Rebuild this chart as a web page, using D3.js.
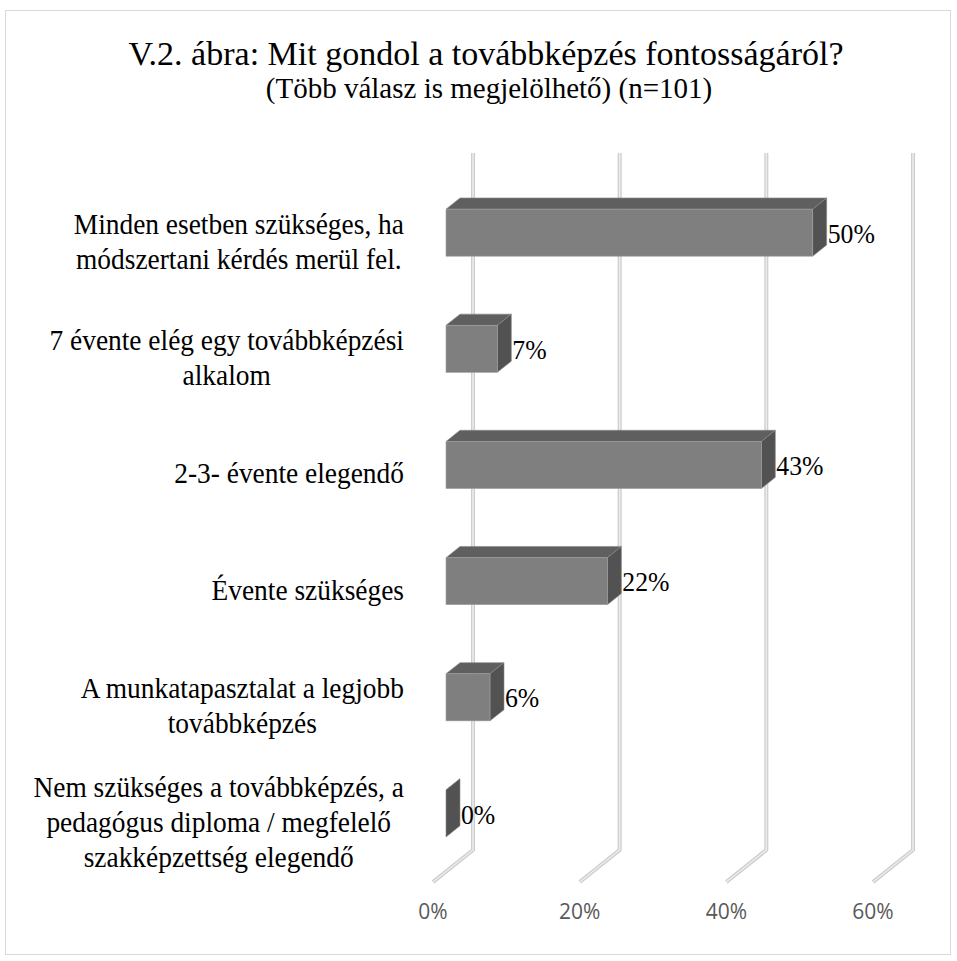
<!DOCTYPE html>
<html>
<head>
<meta charset="utf-8">
<script src="https://cdn.jsdelivr.net/npm/d3@7"></script>
<style>
  body { margin: 0; background: #fff; }
  svg text { font-family: "Liberation Serif", "Times New Roman", serif; }
</style>
</head>
<body>
<div id="chart"></div>
<script>
'use strict';

var titleText = 'V.2. ábra: Mit gondol a továbbképzés fontosságáról?';
var subtitleText = '(Több válasz is megjelölhető) (n=101)';

var categories = [
  ['Minden esetben szükséges, ha', 'módszertani kérdés merül fel.'],
  ['7 évente elég egy továbbképzési', 'alkalom'],
  ['2-3- évente elegendő'],
  ['Évente szükséges'],
  ['A munkatapasztalat a legjobb', 'továbbképzés'],
  ['Nem szükséges a továbbképzés, a', 'pedagógus diploma / megfelelő', 'szakképzettség elegendő']
];

var values = [50, 7, 43, 22, 6, 0];

var ticks = [0, 20, 40, 60];

var width = 957, height = 961;

// 3d depth of the floor, and where the bars sit inside it
var depth = { dx: -40, dy: 32 };
var barBack = 0.325, barFront = 0.675;

var svg = d3.select('#chart').append('svg')
    .attr('width', width)
    .attr('height', height);

svg.append('rect')
    .attr('x', 5.5).attr('y', 10.5)
    .attr('width', 945).attr('height', 944)
    .attr('fill', '#fff')
    .attr('stroke', '#d9d9d9');

var x = d3.scaleLinear().domain([0, 60]).range([473, 913]);

var y = d3.scaleBand()
    .domain(d3.range(categories.length))
    .range([153, 850])
    .paddingInner(0.595)
    .paddingOuter(0.2975);

var bw = y.bandwidth();

function squeezed(g, tx, ty, txt, size, sx, anchor) {
  return g.append('text')
      .attr('transform', 'translate(' + tx + ',' + ty + ') scale(' + sx + ',1)')
      .attr('text-anchor', anchor || 'start')
      .style('font-size', size + 'px')
      .attr('fill', '#000')
      .text(txt);
}

// title
squeezed(svg, 486, 65, titleText, 34, 1, 'middle');
squeezed(svg, 489, 98, subtitleText, 29, 1, 'middle');

// gridlines: back wall + floor
var grid = svg.append('g');
ticks.forEach(function(t) {
  var p = d3.path();
  p.moveTo(x(t), 153);
  p.lineTo(x(t), 850);
  p.lineTo(x(t) + depth.dx, 850 + depth.dy);
  grid.append('path')
      .attr('d', p.toString())
      .attr('fill', 'none')
      .attr('stroke', '#cdcdcd')
      .attr('stroke-width', 4)
      .attr('stroke-linejoin', 'round');
  grid.append('path')
      .attr('d', p.toString())
      .attr('fill', 'none')
      .attr('stroke', '#ededed')
      .attr('stroke-width', 1.5);
});

// tick labels
svg.append('g').selectAll('text')
    .data(ticks)
    .enter().append('text')
    .attr('x', function(d) { return x(d) + depth.dx; })
    .attr('y', 919)
    .attr('text-anchor', 'middle')
    .style('font-family', '"Open Sans", sans-serif')
    .style('font-size', '21px')
    .attr('fill', '#595959')
    .text(function(d) { return d + '%'; });

// bars
var fdx = depth.dx * barFront, fdy = depth.dy * barFront;
var bdx = depth.dx * barBack, bdy = depth.dy * barBack;

function poly(pts) {
  return 'M' + pts.map(function(p) { return p.join(','); }).join('L') + 'Z';
}

var bars = svg.append('g').selectAll('g')
    .data(values)
    .enter().append('g');

// top face
bars.append('path')
    .attr('d', function(d, i) {
      var x0 = x(0), x1 = x(d), y0 = y(i);
      return poly([[x0 + fdx, y0 + fdy], [x1 + fdx, y0 + fdy],
                   [x1 + bdx, y0 + bdy], [x0 + bdx, y0 + bdy]]);
    })
    .attr('fill', '#5f5f5f')
    .attr('stroke', '#8a8a8a')
    .attr('stroke-width', 0.6);

// side face
bars.append('path')
    .attr('d', function(d, i) {
      var x1 = x(d), y0 = y(i);
      return poly([[x1 + fdx, y0 + fdy], [x1 + bdx, y0 + bdy],
                   [x1 + bdx, y0 + bdy + bw], [x1 + fdx, y0 + fdy + bw]]);
    })
    .attr('fill', '#525252')
    .attr('stroke', '#8a8a8a')
    .attr('stroke-width', 0.6);

// front face
bars.each(function(d, i) {
  if (d <= 0) return;
  d3.select(this).append('rect')
      .attr('x', x(0) + fdx)
      .attr('y', y(i) + fdy)
      .attr('width', x(d) - x(0))
      .attr('height', bw)
      .attr('fill', '#7f7f7f')
      .attr('stroke', '#a0a0a0')
      .attr('stroke-width', 0.6);
});

// value labels
bars.each(function(d, i) {
  squeezed(d3.select(this), x(d) + bdx + 1, y(i) + fdy + bw / 2 + 10, d + '%', 28, 0.92);
});

// category labels: block right-aligned, lines centred within the block
var labelSx = 0.945;
var labels = svg.append('g');
categories.forEach(function(lines, i) {
  var g = labels.append('g');
  var cy = y(i) + bw / 2 + 30;
  var lh = 35;
  var texts = lines.map(function(line, k) {
    return g.append('text')
        .style('font-size', '29px')
        .attr('text-anchor', 'middle')
        .attr('x', 0)
        .attr('y', cy + (k - (lines.length - 1) / 2) * lh + 10)
        .text(line);
  });
  var maxW = d3.max(texts, function(t) { return t.node().getComputedTextLength(); }) * labelSx;
  var right = 404;
  g.attr('transform', 'translate(' + (right - maxW / 2) + ',0) scale(' + labelSx + ',1)');
});
</script>
</body>
</html>
